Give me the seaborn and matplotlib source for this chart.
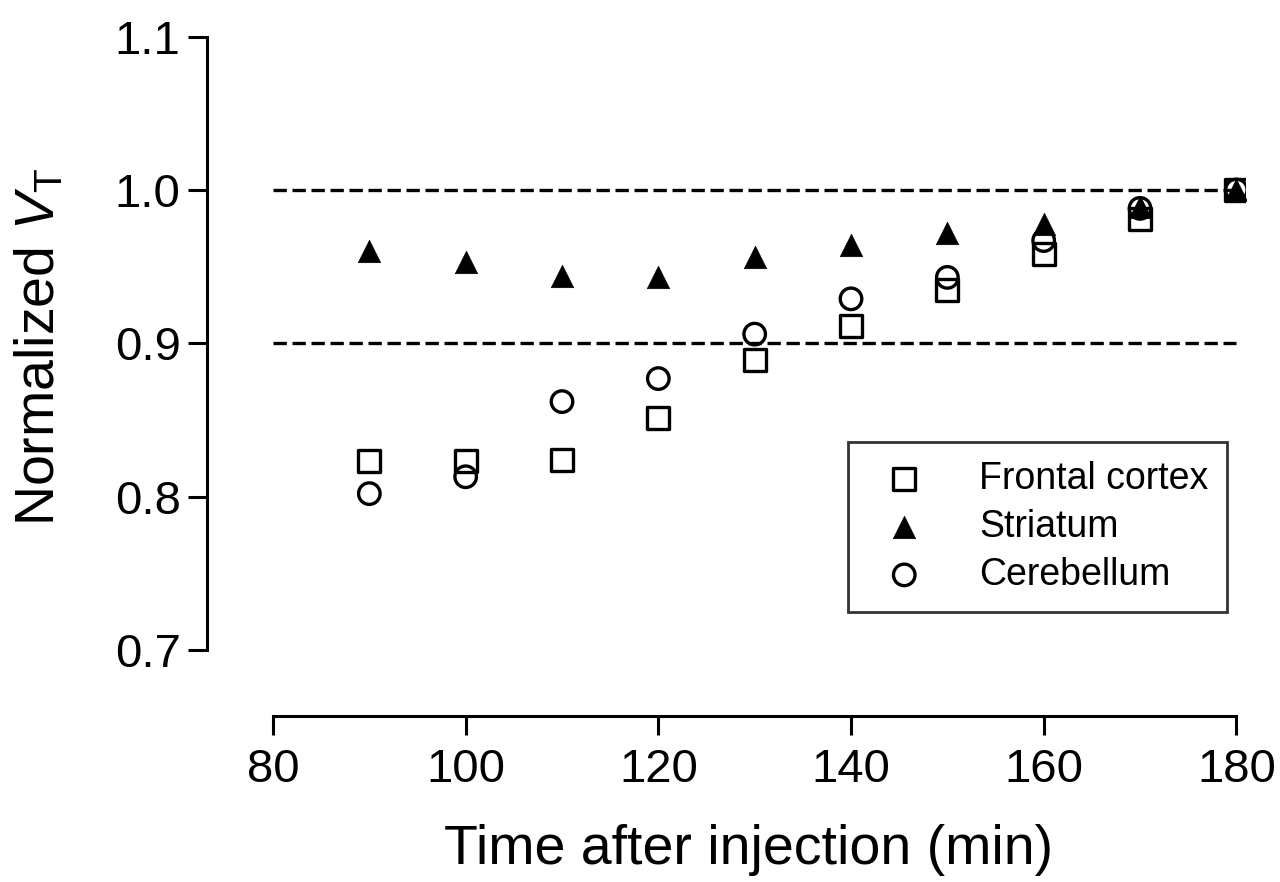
import numpy as np
import pandas as pd
import seaborn as sns
import matplotlib.pyplot as plt

# values
time_min = [90, 100, 110, 120, 130, 140, 150, 160, 170, 180]
frontal_cortex = [0.823, 0.823, 0.824, 0.851, 0.889, 0.911, 0.935, 0.958, 0.981, 1.000]
striatum = [0.960, 0.953, 0.944, 0.943, 0.956, 0.964, 0.972, 0.978, 0.989, 1.000]
cerebellum = [0.802, 0.813, 0.862, 0.877, 0.906, 0.929, 0.943, 0.967, 0.988, 1.000]
ref_levels = [0.9, 1.0]
x_ticks = [80, 100, 120, 140, 160, 180]
y_ticks = [0.7, 0.8, 0.9, 1.0, 1.1]

df = pd.DataFrame({
    "time": time_min * 3,
    "vt": frontal_cortex + striatum + cerebellum,
    "region": ["Frontal cortex"] * 10 + ["Striatum"] * 10 + ["Cerebellum"] * 10,
})

sns.set_style("ticks")
plt.rcParams["font.family"] = ["Liberation Sans", "DejaVu Sans"]
plt.rcParams["mathtext.fontset"] = "custom"
plt.rcParams["mathtext.rm"] = "Liberation Sans"
plt.rcParams["mathtext.it"] = "Liberation Sans:italic"
plt.rcParams["text.color"] = "black"
plt.rcParams["axes.labelcolor"] = "black"
plt.rcParams["axes.edgecolor"] = "black"

fig = plt.figure(figsize=(12.8, 8.82), dpi=100)
ax = fig.add_axes([207 / 1280, 1 - 716 / 882, 1039 / 1280, 684 / 882])

styles = {
    "Frontal cortex": dict(marker="s", s=250, facecolor="none", edgecolor="black", linewidth=2.4, zorder=3),
    "Striatum": dict(marker="^", s=260, facecolor="black", edgecolor="black", linewidth=0.5, zorder=4),
    "Cerebellum": dict(marker="o", s=240, facecolor="none", edgecolor="black", linewidth=2.4, zorder=3),
}
for name, kw in styles.items():
    sub = df[df["region"] == name]
    sns.scatterplot(data=sub, x="time", y="vt", label=name, ax=ax, **kw)

# dashed reference lines at 90% and 100%
ax.hlines(ref_levels, xmin=x_ticks[0], xmax=x_ticks[-1], colors="black",
          linewidth=2.4, linestyles=(0, (4.0, 1.7)), zorder=2)

ax.set_xlim(73.15, 181)
ax.set_ylim(0.657, 1.103)
ax.set_xticks(x_ticks)
ax.set_yticks(y_ticks)
ax.set_yticklabels([f"{v:.1f}" for v in y_ticks])

sns.despine(ax=ax)
for side in ["left", "bottom"]:
    ax.spines[side].set_linewidth(2.2)
ax.spines["left"].set_bounds(y_ticks[0], y_ticks[-1])
ax.spines["bottom"].set_bounds(x_ticks[0], x_ticks[-1])
ax.tick_params(axis="both", length=14, width=2.2, labelsize=34, color="black",
               labelcolor="black", pad=5)
ax.tick_params(axis="x", pad=9)

ax.set_xlabel("Time after injection (min)", fontsize=40)
ax.set_ylabel(r"Normalized $V_\mathrm{T}$", fontsize=40)
ax.xaxis.set_label_coords(0.521, -0.158)
ax.yaxis.set_label_coords(-0.135, 0.54)

leg = ax.legend(loc="upper left", bbox_to_anchor=(848 / 1280, 1 - 442 / 882),
                bbox_transform=fig.transFigure, borderaxespad=0, fontsize=27,
                frameon=True, fancybox=False, edgecolor="black", borderpad=0.5,
                handlelength=2.0, handletextpad=1.0, labelspacing=0.32)
leg.get_frame().set_linewidth(2.0)

fig.savefig("out.png", dpi=100)
